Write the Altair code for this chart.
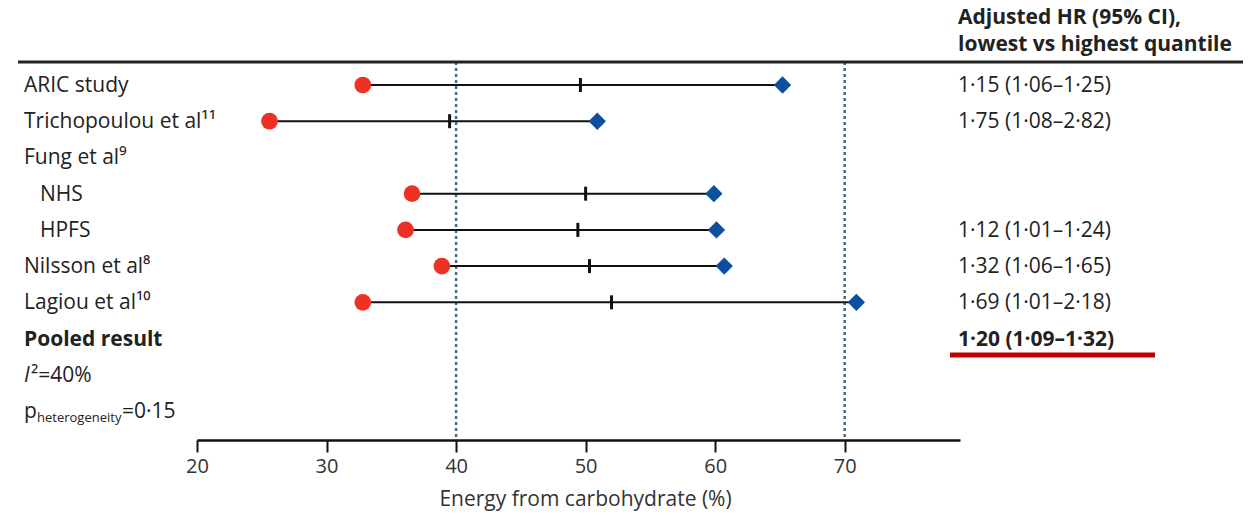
import altair as alt
import pandas as pd

# ---- data -------------------------------------------------------------
row_order = ["ARIC study", "Trichopoulou et al¹¹", "Fung et al⁹", "NHS", "HPFS",
             "Nilsson et al⁸", "Lagiou et al¹⁰", "Pooled result", "I2", "phet"]

main_labels = ["ARIC study", "Trichopoulou et al¹¹", "Fung et al⁹",
               "Nilsson et al⁸", "Lagiou et al¹⁰"]
sub_labels = ["NHS", "HPFS"]
pooled_label = ["Pooled result"]

study_rows = ["ARIC study", "Trichopoulou et al¹¹", "NHS", "HPFS",
              "Nilsson et al⁸", "Lagiou et al¹⁰"]
lowest = [32.8, 25.6, 36.6, 36.1, 38.9, 32.8]
median = [49.6, 39.5, 50.0, 49.4, 50.3, 52.0]
highest = [65.2, 50.9, 59.9, 60.1, 60.7, 70.9]

hr_rows = ["ARIC study", "Trichopoulou et al¹¹", "HPFS", "Nilsson et al⁸", "Lagiou et al¹⁰"]
hr_text = ["1·15 (1·06–1·25)", "1·75 (1·08–2·82)", "1·12 (1·01–1·24)",
           "1·32 (1·06–1·65)", "1·69 (1·01–2·18)"]
pooled_hr = ["1·20 (1·09–1·32)"]

ref_lines = [40, 70]
x_ticks = [20, 30, 40, 50, 60, 70]
x_domain = [20, 78.9]

header_lines = ["Adjusted HR (95% CI),", "lowest vs highest quantile"]

# ---- tables -----------------------------------------------------------
studies = pd.DataFrame({"row": study_rows, "low": lowest, "mid": median, "high": highest})
main_df = pd.DataFrame({"row": main_labels})
sub_df = pd.DataFrame({"row": sub_labels})
pooled_df = pd.DataFrame({"row": pooled_label, "hr": pooled_hr})
hr_df = pd.DataFrame({"row": hr_rows, "hr": hr_text})
ref_df = pd.DataFrame({"x": ref_lines})
i2_df = pd.DataFrame({"row": ["I2"]})
p_df = pd.DataFrame({"row": ["phet"]})
head_df = pd.DataFrame({"t": header_lines, "i": [0, 1]})

FONT = "Open Sans"
TXT = "#222222"
FS = 21

xs = alt.Scale(domain=x_domain, nice=False, zero=False)
ys = alt.Scale(type="point", domain=row_order, range=[23, 349], padding=0)
Y = alt.Y("row:N", scale=ys, axis=None)

xaxis = alt.Axis(values=x_ticks, title="Energy from carbohydrate (%)", grid=False,
                 domainColor="#111111", domainWidth=2.5, tickColor="#111111",
                 tickWidth=2, tickSize=12, labelFontSize=20, labelColor="#333333",
                 labelFont=FONT, labelPadding=4, labelFlush=False,
                 titleFont=FONT, titleFontSize=21,
                 titleFontWeight="normal", titleColor="#333333", titlePadding=12,
                 titleX=388)

base_x = alt.X("x:Q", scale=xs, axis=xaxis)

refs = alt.Chart(ref_df).mark_rule(color="#4a6b80", strokeWidth=2.5,
                                   strokeDash=[3, 3]).encode(x=base_x)

lines = alt.Chart(studies).mark_rule(color="#111111", strokeWidth=2).encode(
    x=alt.X("low:Q", scale=xs), x2="high:Q", y=Y)
mids = alt.Chart(studies).mark_tick(color="#111111", thickness=3, size=14,
                                    opacity=1, orient="vertical").encode(
    x=alt.X("mid:Q", scale=xs), y=Y)
lows = alt.Chart(studies).mark_point(shape="circle", filled=True, size=280,
                                     color="#ee3124", opacity=1).encode(
    x=alt.X("low:Q", scale=xs), y=Y)
highs = alt.Chart(studies).mark_point(shape="diamond", filled=True, size=300,
                                      color="#0b4f9e", opacity=1).encode(
    x=alt.X("high:Q", scale=xs), y=Y)

txt_kw = dict(font=FONT, fontSize=FS, color=TXT, align="left", baseline="middle", dy=1)

main_txt = alt.Chart(main_df).mark_text(**txt_kw).encode(
    x=alt.value(-173), y=Y, text="row:N")
sub_txt = alt.Chart(sub_df).mark_text(**txt_kw).encode(
    x=alt.value(-157), y=Y, text="row:N")
pooled_txt = alt.Chart(pooled_df).mark_text(fontWeight="bold", **txt_kw).encode(
    x=alt.value(-173), y=Y, text="row:N")
i_txt = alt.Chart(i2_df).mark_text(fontStyle="italic", **txt_kw).encode(
    x=alt.value(-173), y=Y, text=alt.value("I"))
i2_txt = alt.Chart(i2_df).mark_text(**txt_kw).encode(
    x=alt.value(-166), y=Y, text=alt.value("²=40%"))
p_txt = alt.Chart(p_df).mark_text(**txt_kw).encode(
    x=alt.value(-173), y=Y, text=alt.value("p"))
p_sub = alt.Chart(p_df).mark_text(font=FONT, fontSize=13, color=TXT, align="left",
                                  baseline="middle", dy=7).encode(
    x=alt.value(-160), y=Y, text=alt.value("heterogeneity"))
p_val = alt.Chart(p_df).mark_text(**txt_kw).encode(
    x=alt.value(-75), y=Y, text=alt.value("=0·15"))

hr_txt = alt.Chart(hr_df).mark_text(**txt_kw).encode(
    x=alt.value(761), y=Y, text="hr:N")
pooled_hr_txt = alt.Chart(pooled_df).mark_text(fontWeight="bold", **txt_kw).encode(
    x=alt.value(761), y=Y, text="hr:N")

header = alt.Chart(head_df).mark_text(font=FONT, fontSize=21, fontWeight="bold",
                                      color=TXT, align="left", baseline="middle").encode(
    x=alt.value(761),
    y=alt.Y("i:Q", scale=alt.Scale(domain=[0, 1], range=[-44, -17]), axis=None),
    text="t:N")

top_rule = alt.Chart(head_df.head(1)).mark_rule(color="#222222", strokeWidth=3).encode(
    x=alt.value(-179), x2=alt.value(1046), y=alt.value(0))
red_rule = alt.Chart(pooled_df).mark_rule(color="#c00000", strokeWidth=5).encode(
    x=alt.value(753), x2=alt.value(958), y=alt.value(293))

chart = alt.layer(
    refs, top_rule, lines, mids, lows, highs,
    main_txt, sub_txt, pooled_txt, i_txt, i2_txt, p_txt, p_sub, p_val,
    hr_txt, pooled_hr_txt, header, red_rule,
).resolve_scale(y="independent").properties(
    width=763, height=378,
    background="white",
    autosize=alt.AutoSizeParams(type="none"),
    padding={"left": 197, "top": 62, "right": 298, "bottom": 75},
).configure_axis(grid=False).configure_view(stroke=None, strokeWidth=0)

chart.save("out.html", embed_options={"renderer": "svg", "actions": False})
